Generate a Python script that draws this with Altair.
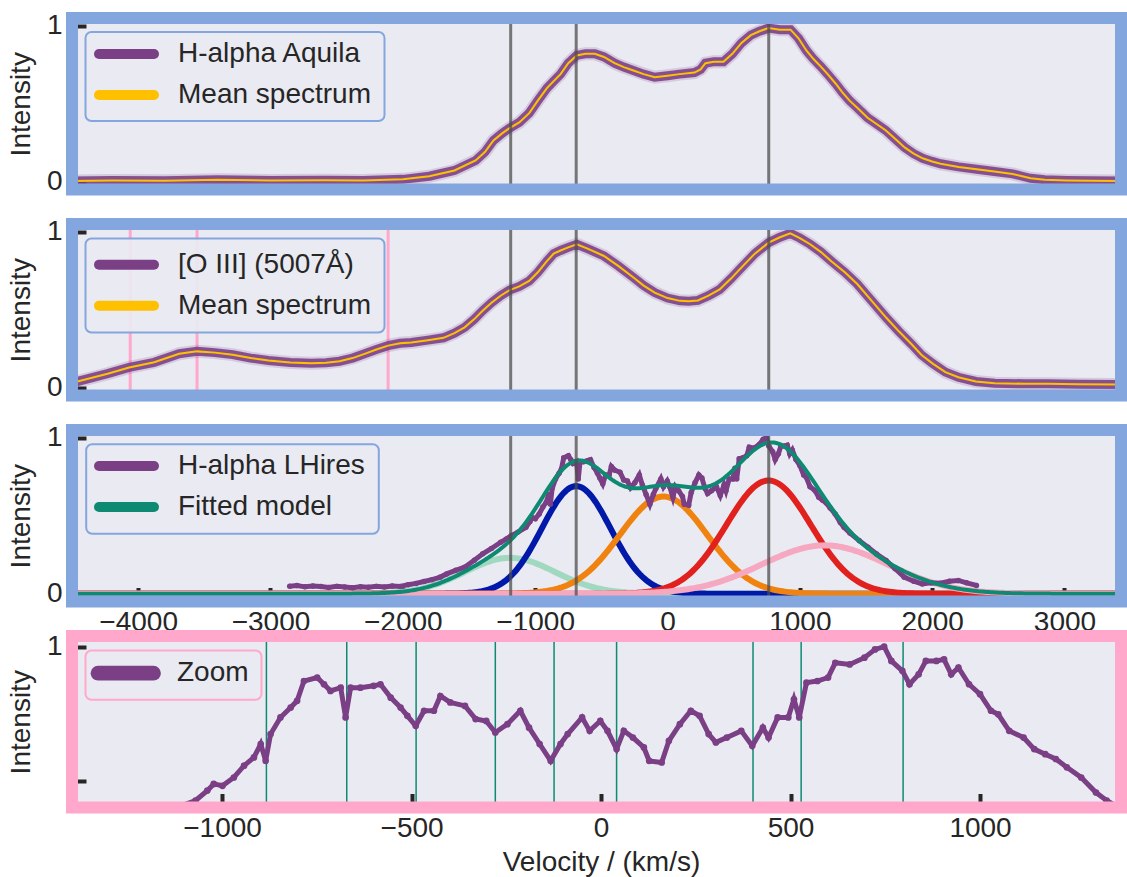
import numpy as np
import pandas as pd
import altair as alt

# ---------------------------------------------------------------- style
FONT = "Liberation Sans"
INK = "#262626"
PANEL_BG = "#EAEAF2"
FRAME_BLUE = "#84A6DE"
FRAME_PINK = "#FFA8CC"
PURPLE = "#7B3F85"
GOLD = "#FFC000"
TEAL = "#0E8A73"
MARKER_GRAY = "#4D4D4D"
FS = 28

W = 1049      # plot width of every panel
H = 171.5     # plot height of every panel

# ---------------------------------------------------------------- axes
V_FULL = [-4500, 3427]
V_ZOOM = [-1396, 1372]
Y_FULL = [-0.05, 1.05]
Y_ZOOM = [0.40, 1.04]
X_TICKS_FULL = [-4000, -3000, -2000, -1000, 0, 1000, 2000, 3000]
X_TICKS_ZOOM = [-1000, -500, 0, 500, 1000]
Y_TICKS_FULL = [0, 1]
Y_TICKS_ZOOM = [0.5, 1]

# ---------------------------------------------------------------- data
# H-alpha (Aquila) mean spectrum: (velocity km/s, normalised intensity)
AQUILA = [
    (-4500, 0.005), (-4200, 0.008), (-3800, 0.006), (-3400, 0.012), (-3000, 0.008),
    (-2600, 0.010), (-2300, 0.008), (-2000, 0.015), (-1800, 0.035), (-1610, 0.072),
    (-1450, 0.136), (-1380, 0.190), (-1315, 0.265), (-1250, 0.310), (-1193, 0.344),
    (-1120, 0.380), (-1045, 0.440), (-980, 0.520), (-911, 0.600), (-860, 0.645),
    (-808, 0.690), (-750, 0.760), (-686, 0.810), (-620, 0.820), (-550, 0.820),
    (-480, 0.800), (-400, 0.760), (-330, 0.735), (-263, 0.715), (-180, 0.690),
    (-97, 0.670), (0, 0.680), (91, 0.690), (204, 0.700), (250, 0.720),
    (287, 0.760), (350, 0.770), (423, 0.770), (490, 0.820), (559, 0.890),
    (630, 0.940), (695, 0.965), (763, 0.985), (850, 0.975), (930, 0.975),
    (990, 0.920), (1051, 0.840), (1100, 0.790), (1157, 0.740), (1210, 0.690),
    (1270, 0.630), (1320, 0.575), (1376, 0.520), (1440, 0.470), (1512, 0.410),
    (1580, 0.370), (1648, 0.330), (1720, 0.275), (1792, 0.220), (1860, 0.180),
    (1928, 0.150), (2000, 0.130), (2064, 0.115), (2200, 0.095), (2336, 0.080),
    (2470, 0.065), (2608, 0.050), (2680, 0.035), (2744, 0.022), (2850, 0.012),
    (3016, 0.008), (3200, 0.006), (3427, 0.005),
]

# [O III] 5007 mean spectrum
OIII = [
    (-4500, 0.035), (-4459, 0.040), (-4231, 0.090), (-4068, 0.130), (-3879, 0.163),
    (-3690, 0.218), (-3555, 0.233), (-3420, 0.225), (-3286, 0.212), (-3150, 0.190),
    (-3015, 0.174), (-2850, 0.162), (-2692, 0.157), (-2580, 0.160), (-2478, 0.170),
    (-2380, 0.190), (-2289, 0.217), (-2200, 0.245), (-2111, 0.270), (-2020, 0.285),
    (-1936, 0.290), (-1810, 0.305), (-1693, 0.320), (-1610, 0.350), (-1533, 0.387),
    (-1460, 0.440), (-1397, 0.494), (-1330, 0.545), (-1261, 0.590), (-1193, 0.626),
    (-1120, 0.650), (-1045, 0.685), (-980, 0.740), (-913, 0.810), (-860, 0.860),
    (-808, 0.880), (-750, 0.900), (-685, 0.920), (-600, 0.890), (-480, 0.845),
    (-370, 0.780), (-262, 0.710), (-180, 0.655), (-97, 0.610), (0, 0.575),
    (94, 0.557), (160, 0.555), (230, 0.560), (310, 0.590), (394, 0.630),
    (480, 0.700), (558, 0.770), (660, 0.860), (764, 0.930), (850, 0.965),
    (928, 0.990), (1000, 0.960), (1078, 0.920), (1160, 0.870), (1240, 0.810),
    (1340, 0.740), (1434, 0.665), (1540, 0.560), (1652, 0.450), (1750, 0.360),
    (1843, 0.280), (1920, 0.210), (2007, 0.153), (2100, 0.100), (2198, 0.067),
    (2330, 0.040), (2472, 0.029), (2700, 0.025), (2880, 0.025), (3100, 0.022),
    (3427, 0.020),
]

# H-alpha LHires spectrum
LHIRES = [
    (-2855, 0.048), (-2800, 0.052), (-2740, 0.044), (-2680, 0.050), (-2620, 0.046),
    (-2560, 0.040), (-2500, 0.047), (-2440, 0.043), (-2380, 0.038), (-2320, 0.045),
    (-2260, 0.041), (-2200, 0.047), (-2140, 0.043), (-2080, 0.050), (-2020, 0.046),
    (-1960, 0.058), (-1900, 0.066), (-1840, 0.078), (-1780, 0.090), (-1720, 0.105),
    (-1669, 0.127), (-1600, 0.150), (-1533, 0.170), (-1460, 0.215), (-1396, 0.256),
    (-1330, 0.290), (-1261, 0.330), (-1220, 0.350), (-1180, 0.373), (-1130, 0.395),
    (-1070, 0.426), (-1039, 0.463), (-1022, 0.488), (-999, 0.481), (-969, 0.512),
    (-942, 0.556), (-916, 0.587), (-898, 0.637), (-885, 0.574), (-872, 0.674),
    (-846, 0.736), (-819, 0.773), (-802, 0.798), (-784, 0.872), (-749, 0.885),
    (-731, 0.860), (-714, 0.835), (-687, 0.847), (-674, 0.736), (-661, 0.847),
    (-635, 0.847), (-600, 0.854), (-582, 0.860), (-555, 0.810), (-529, 0.773),
    (-511, 0.742), (-489, 0.705), (-467, 0.761), (-441, 0.761), (-424, 0.816),
    (-398, 0.792), (-359, 0.779), (-331, 0.730), (-303, 0.723), (-279, 0.680),
    (-247, 0.711), (-213, 0.761), (-190, 0.698), (-162, 0.637), (-133, 0.574),
    (-107, 0.637), (-88, 0.674), (-50, 0.736), (-30, 0.686), (-2, 0.723),
    (17, 0.686), (41, 0.618), (60, 0.686), (84, 0.661), (113, 0.624),
    (127, 0.574), (160, 0.568), (179, 0.649), (208, 0.711), (237, 0.761),
    (260, 0.742), (284, 0.674), (303, 0.643), (332, 0.661), (370, 0.686),
    (399, 0.630), (427, 0.698), (442, 0.661), (466, 0.736), (494, 0.736),
    (509, 0.804), (523, 0.736), (542, 0.866), (571, 0.872), (599, 0.885),
    (618, 0.940), (656, 0.934), (695, 0.959), (723, 0.990), (747, 1.000),
    (766, 0.947), (795, 0.910), (814, 0.860), (838, 0.897), (857, 0.947),
    (885, 0.947), (905, 0.953), (924, 0.897), (943, 0.922), (971, 0.860),
    (1000, 0.823), (1029, 0.761), (1048, 0.748), (1077, 0.686), (1115, 0.661),
    (1143, 0.618), (1172, 0.599), (1200, 0.581), (1229, 0.550), (1267, 0.512),
    (1306, 0.456), (1334, 0.426), (1378, 0.390), (1450, 0.340), (1515, 0.298),
    (1580, 0.255), (1652, 0.213), (1720, 0.160), (1789, 0.106), (1860, 0.080),
    (1925, 0.063), (1990, 0.070), (2062, 0.067), (2130, 0.080), (2198, 0.085),
    (2260, 0.070), (2335, 0.053),
]

# Gaussian components of the fitted model
COMP_NAMES = ["c1", "c2", "c3", "c4", "c5"]
COMP_CENTER = [-1190, -690, -30, 764, 1188]
COMP_AMP = [0.23, 0.69, 0.623, 0.726, 0.31]
COMP_SIGMA = [340, 260, 330, 320, 475]
COMP_COLOR = ["#A0D8C0", "#0019A8", "#F0820F", "#E0211D", "#F6A8C0"]

# vertical markers
PEAK_LINES = [-1185, -690, 765]
OIII_LINES = [-4060, -3555, -2111]
ZOOM_LINES = [-883, -671, -488, -279, -124, 41, 401, 528, 797]

# legend entries
LEG_AQUILA = (["H-alpha Aquila", "Mean spectrum"], [PURPLE, GOLD])
LEG_OIII = (["[O III] (5007Å)", "Mean spectrum"], [PURPLE, GOLD])
LEG_LHIRES = (["H-alpha LHires", "Fitted model"], [PURPLE, TEAL])
LEG_ZOOM = (["Zoom"], [PURPLE])

# ---------------------------------------------------------------- tables
def spectrum(pairs):
    return pd.DataFrame(pairs, columns=["v", "I"])

aquila_df = spectrum(AQUILA)
oiii_df = spectrum(OIII)
lhires_df = spectrum(LHIRES)

grid = np.linspace(V_FULL[0], V_FULL[1], 500)
comp_rows = []
model = np.zeros_like(grid)
for name, c, a, s in zip(COMP_NAMES, COMP_CENTER, COMP_AMP, COMP_SIGMA):
    g = a * np.exp(-0.5 * ((grid - c) / s) ** 2)
    model += g
    comp_rows.append(pd.DataFrame({"v": grid, "I": g, "comp": name}))
comp_df = pd.concat(comp_rows, ignore_index=True)
model_df = pd.DataFrame({"v": grid, "I": model})

ONE = pd.DataFrame({"k": [0]})


# ---------------------------------------------------------------- helpers
def x_enc(domain, ticks, labels, show_ticks=True, title=None):
    kw = dict(values=ticks, format="d", labels=labels, domain=False, grid=False,
              ticks=show_ticks, tickSize=14, tickWidth=4, tickColor=INK, offset=-14,
              labelPadding=7, labelFont=FONT, labelFontSize=FS, labelColor=INK,
              labelFlush=False, labelOverlap=False, zindex=0)
    if title:
        kw.update(title=title, titleFont=FONT, titleFontSize=FS, titleColor=INK,
                  titleFontWeight="normal", titleX=529, titleY=77,
                  titleAlign="center", titleBaseline="alphabetic")
    else:
        kw["title"] = None
    return alt.X("v:Q", scale=alt.Scale(domain=domain, nice=False, zero=False),
                 axis=alt.Axis(**kw))


def y_enc(domain, ticks, label_expr=None):
    kw = dict(values=ticks, format="d", domain=False, grid=False,
              tickSize=14, tickWidth=4, tickColor=INK, offset=-14, labelPadding=10,
              labelFont=FONT, labelFontSize=FS, labelColor=INK, labelFlush=False,
              labelOverlap=False, title="Intensity", titleFont=FONT,
              titleFontSize=FS, titleColor=INK, titleFontWeight="normal",
              titleAngle=270, titleAlign="center", titleBaseline="alphabetic",
              titleX=-56.5, titleY=H / 2, zindex=0)
    if label_expr:
        kw["labelExpr"] = label_expr
    return alt.Y("I:Q", scale=alt.Scale(domain=domain, nice=False, zero=False),
                 axis=alt.Axis(**kw))


def frame(color):
    return alt.Chart(ONE).mark_rect(filled=False, stroke=color, strokeWidth=12).encode(
        x=alt.value(0), x2=alt.value(W), y=alt.value(0), y2=alt.value(H))


def legend(entries, border, box, rows, handle_w, handle_x, text_x):
    labels, colors = entries
    out = [alt.Chart(ONE).mark_rect(fill=PANEL_BG, fillOpacity=0.9, stroke=border,
                                    strokeWidth=2, cornerRadius=6).encode(
        x=alt.value(box[0]), x2=alt.value(box[2]),
        y=alt.value(box[1]), y2=alt.value(box[3]))]
    for lab, col, ry in zip(labels, colors, rows):
        out.append(alt.Chart(ONE).mark_rule(color=col, strokeWidth=handle_w,
                                            strokeCap="round").encode(
            x=alt.value(handle_x[0]), x2=alt.value(handle_x[1]), y=alt.value(ry)))
        out.append(alt.Chart(ONE).mark_text(text=lab, align="left", baseline="middle",
                                            font=FONT, fontSize=FS, color=INK).encode(
            x=alt.value(text_x), y=alt.value(ry)))
    return out


def vlines(values, enc_x, color, width, opacity=1.0):
    return alt.Chart(pd.DataFrame({"v": values})).mark_rule(
        color=color, strokeWidth=width, opacity=opacity).encode(x=enc_x)


def band(df, enc_x, enc_y):
    halo = alt.Chart(df).mark_line(color=PURPLE, strokeWidth=13, opacity=0.18,
                                   clip=True).encode(x=enc_x, y=enc_y)
    core = alt.Chart(df).mark_line(color=PURPLE, strokeWidth=9, opacity=0.88,
                                   clip=True).encode(x=enc_x, y=enc_y)
    mean = alt.Chart(df).mark_line(color=GOLD, strokeWidth=2,
                                   clip=True).encode(x=enc_x, y=enc_y)
    return [halo, core, mean]


# ---------------------------------------------------------------- panel 1
X1 = x_enc(V_FULL, X_TICKS_FULL, False, show_ticks=False)
Y1 = y_enc(Y_FULL, Y_TICKS_FULL)
anchor = alt.Chart(ONE).mark_rule(opacity=0, strokeWidth=0).encode(
    x=alt.value(-71.5), x2=alt.value(-70), y=alt.value(-18))
p1 = alt.layer(
    *band(aquila_df, X1, Y1),
    vlines(PEAK_LINES, X1, MARKER_GRAY, 3, 0.75),
    *legend(LEG_AQUILA, FRAME_BLUE, (13.5, 14, 312.5, 103), (36, 77), 10, (27, 82), 106),
    anchor,
    frame(FRAME_BLUE),
).properties(width=W, height=H)

# ---------------------------------------------------------------- panel 2
X2 = x_enc(V_FULL, X_TICKS_FULL, False, show_ticks=False)
Y2 = y_enc(Y_FULL, Y_TICKS_FULL)
p2 = alt.layer(
    vlines(OIII_LINES, X2, FRAME_PINK, 3),
    *band(oiii_df, X2, Y2),
    vlines(PEAK_LINES, X2, MARKER_GRAY, 3, 0.75),
    *legend(LEG_OIII, FRAME_BLUE, (13.5, 14.5, 312.5, 108.5), (40.8, 81.8), 10, (27, 82), 106),
    frame(FRAME_BLUE),
).properties(width=W, height=H)

# ---------------------------------------------------------------- panel 3
X3 = x_enc(V_FULL, X_TICKS_FULL, True)
Y3 = y_enc(Y_FULL, Y_TICKS_FULL)
components = alt.Chart(comp_df).mark_line(strokeWidth=6, clip=True).encode(
    x=X3, y=Y3,
    color=alt.Color("comp:N", scale=alt.Scale(domain=COMP_NAMES, range=COMP_COLOR),
                    legend=None))
lh_line = alt.Chart(lhires_df).mark_line(color=PURPLE, strokeWidth=5, clip=True).encode(x=X3, y=Y3)
lh_pts = alt.Chart(lhires_df).mark_circle(color=PURPLE, size=30, opacity=1, clip=True).encode(x=X3, y=Y3)
fit = alt.Chart(model_df).mark_line(color=TEAL, strokeWidth=4, clip=True).encode(x=X3, y=Y3)
p3 = alt.layer(
    components, lh_line, lh_pts, fit,
    vlines(PEAK_LINES, X3, MARKER_GRAY, 3, 0.75),
    *legend(LEG_LHIRES, FRAME_BLUE, (14.2, 14.3, 306.8, 103.7), (36, 77), 10, (27, 82), 106),
    frame(FRAME_BLUE),
).properties(width=W, height=H)

# ---------------------------------------------------------------- panel 4
X4 = x_enc(V_ZOOM, X_TICKS_ZOOM, True, title="Velocity / (km/s)")
Y4 = y_enc(Y_ZOOM, Y_TICKS_ZOOM, "datum.value == 1 ? '1' : ''")
z_line = alt.Chart(lhires_df).mark_line(color=PURPLE, strokeWidth=5, clip=True).encode(x=X4, y=Y4)
z_pts = alt.Chart(lhires_df).mark_circle(color=PURPLE, size=45, opacity=1, clip=True).encode(x=X4, y=Y4)
p4 = alt.layer(
    vlines(ZOOM_LINES, X4, TEAL, 1.5),
    z_line, z_pts,
    *legend(LEG_ZOOM, FRAME_PINK, (13.5, 14.5, 189.5, 63.8), (37.2,), 14.7, (26, 81.5), 105),
    frame(FRAME_PINK),
).properties(width=W, height=H)

chart = alt.vconcat(p1, p2, p3, p4, spacing=34, bounds="flush").resolve_scale(
    x="independent", y="independent", color="independent"
).properties(padding=0).configure_view(fill=PANEL_BG, strokeWidth=0)

chart.save("out.html", embed_options={"renderer": "svg", "actions": False})
